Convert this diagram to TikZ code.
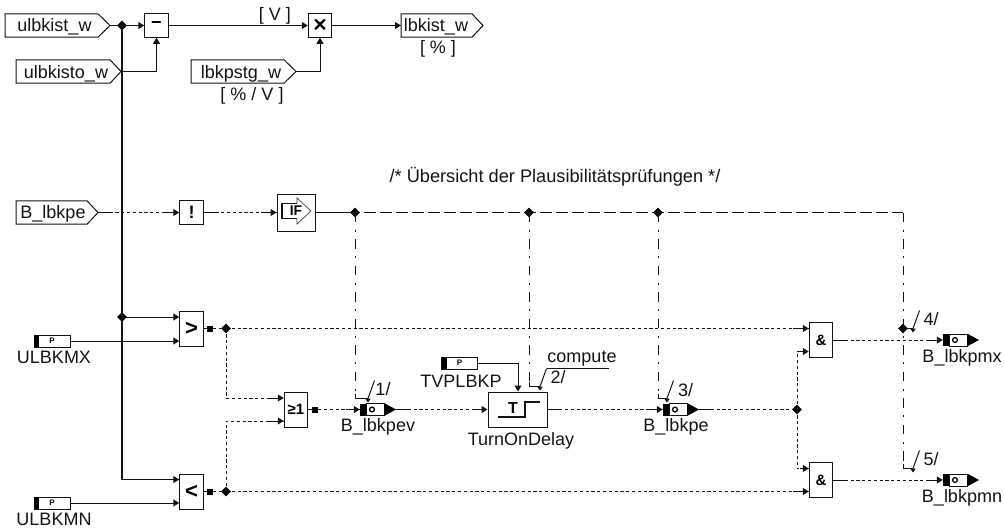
\documentclass[tikz,border=0pt]{standalone}
\usepackage{fontspec}
\setmainfont{Liberation Sans}
\usetikzlibrary{arrows.meta,shapes.geometric}
\definecolor{ink}{gray}{0.08}
\tikzset{
  wire/.style={line width=1pt,draw=ink},
  bus/.style={line width=1.4pt,draw=ink},
  sigdash/.style={line width=1pt,draw=ink,dash pattern=on 3.2pt off 2.6pt},
  ctrl/.style={line width=1pt,draw=ink,dash pattern=on 9.5pt off 7.5pt on 2pt off 7.5pt},
  ctrlh/.style={line width=1.3pt,draw=ink,dash pattern=on 12pt off 4pt},
  arr/.style={-{Triangle[length=6pt,width=7pt]}},
  opbox/.style={draw=ink,line width=1pt,fill=white,inner sep=0pt,minimum width=23.5pt,minimum height=23.5pt,font=\fontsize{18}{20}\selectfont\bfseries},
  tallbox/.style={opbox,minimum height=35pt},
  txt/.style={inner sep=0pt,anchor=base,font=\fontsize{18}{20}\selectfont,text=ink},
  jn/.style={shape=diamond,fill=black,inner sep=0pt,minimum width=10pt,minimum height=10pt},
  sq/.style={fill=black,inner sep=0pt,minimum size=6pt},
  pblock/.style={draw=ink,line width=1pt,fill=white,inner sep=0pt,minimum width=36pt,minimum height=12pt,font=\fontsize{8}{8}\selectfont\bfseries},
  outblock/.style={inner sep=0pt,minimum width=36pt,minimum height=12pt},
  tagline/.style={draw=ink,line width=1pt,fill=white}
}
% x1, start of point, tip, centre y
\newcommand\tagshape[4]{\draw[tagline] (#1,#4-11.7) -- (#2,#4-11.7) -- (#3,#4) -- (#2,#4+11.7) -- (#1,#4+11.7) -- cycle;}
\newcommand\pshape[3]{\node[pblock] (#1) at (#2,#3) {P}; \fill[black] (#2-18,#3-6) rectangle (#2-13,#3+6);}
\newcommand\outshape[3]{%
  \node[outblock] (#1) at (#2,#3) {};
  \fill[black] (#2-18,#3-6) rectangle (#2-12,#3+6);
  \draw[wire,fill=white] (#2-12,#3-6) rectangle (#2+6,#3+6);
  \draw[line width=1.3pt,draw=black] (#2-6,#3) circle (2.4pt);
  \fill[black] (#2+6,#3-6.5) -- (#2+18,#3) -- (#2+6,#3+6.5) -- cycle;}
\newcommand\sigh[2]{\draw[sigdash] (#1) -- (#2);
  \draw[wire] (#1) -- ([xshift=12pt]#1);
  \draw[wire,arr] ([xshift=-16pt]#2) -- (#2);}
\begin{document}
\begin{tikzpicture}[x=1pt,y=-1pt]
\useasboundingbox (0,0) rectangle (1004,530);
% tags
\tagshape{5}{98}{110}{25.5}
\node[txt] (ulbkist) at (54.5,31.5) {ulbkist\_w};
\coordinate (ulbkisttip) at (110,25.5);
\tagshape{16}{110}{121}{71.5}
\node[txt] (ulbkisto) at (66,78) {ulbkisto\_w};
\coordinate (ulbkistotip) at (121,71.5);
\tagshape{191}{284}{296}{71.5}
\node[txt] (lbkpstg) at (241,78) {lbkpstg\_w};
\coordinate (lbkpstgtip) at (296,71.5);
\node[txt] (ulabel) at (252,100) {[ \% / V ]};
\tagshape{401}{472}{483}{25.5}
\node[txt] (lbkist) at (436,31.5) {lbkist\_w};
\coordinate (lbkistin) at (401,25.5);
\node[txt] (pctlabel) at (438,53.5) {[ \% ]};
\tagshape{16}{87}{98}{212.5}
\node[txt] (blbkpe) at (53,218.5) {B\_lbkpe};
\coordinate (blbkpetip) at (98,212.5);
% boxes
\node[opbox] (minus) at (156.5,25.5) {\raisebox{1pt}{\textminus}};
\node[opbox,font=\fontsize{23}{23}\selectfont\bfseries] (times) at (320,25.5) {×};
\node[txt] (vlabel) at (275,20.7) {[ V ]};
\node[opbox] (notb) at (191.5,212.5) {!};
\node[draw=ink,line width=1pt,fill=white,minimum width=38pt,minimum height=37pt,inner sep=0pt] (ifbox) at (296,212.5) {};
\draw[line width=1.2pt,draw=ink] (297,203.5) -- (282,203.5) -- (282,218.5) -- (297,218.5);
\draw[line width=0.7pt,draw=ink!80] (297,203.5) -- (297,198) -- (311,211) -- (297,224) -- (297,218.5);
\node[inner sep=0pt,font=\fontsize{14}{14}\selectfont\bfseries] (iftext) at (296,211) {IF};
\node[tallbox,font=\fontsize{22}{22}\selectfont\bfseries] (gt) at (191.5,328.5) {>};
\node[tallbox,font=\fontsize{22}{22}\selectfont\bfseries] (lt) at (191.5,491.5) {<};
\node[tallbox,font=\fontsize{15}{15}\selectfont\bfseries] (orbox) at (296,409.5) {≥1};
\node[tallbox,font=\fontsize{15}{15}\selectfont\bfseries] (and1) at (821,340) {\&};
\node[tallbox,font=\fontsize{15}{15}\selectfont\bfseries] (and2) at (821,480) {\&};
\node[draw=ink,line width=1pt,fill=white,minimum width=59pt,minimum height=35pt,inner sep=0pt] (delay) at (517.5,409.5) {};
\node[inner sep=0pt,font=\fontsize{16}{16}\selectfont\bfseries] (tmark) at (513,407.5) {T};
\draw[line width=1.8pt,draw=ink] (498,417) -- (525,417) -- (525,402) -- (540,402);
\node[txt] (delaylabel) at (521,445) {TurnOnDelay};
% parameters
\pshape{ulbkmx}{52}{341}
\node[txt] (ulbkmxl) at (54,363.5) {ULBKMX};
\pshape{ulbkmn}{52}{503}
\node[txt] (ulbkmnl) at (54,525.3) {ULBKMN};
\pshape{tvplbkp}{459.5}{363}
\node[txt] (tvplbkpl) at (461,387) {TVPLBKP};
% outputs
\outshape{obpev}{378}{409.5}
\node[txt] (obpevl) at (378,431.7) {B\_lbkpev};
\outshape{obpe}{681}{409.5}
\node[txt] (obpel) at (676,431.7) {B\_lbkpe};
\outshape{obpmx}{961}{340}
\node[txt] (obpmxl) at (962,362) {B\_lbkpmx};
\outshape{obpmn}{961}{480}
\node[txt] (obpmnl) at (962,502) {B\_lbkpmn};
% squares and junctions
\node[sq] (sq1) at (210,328.5) {};
\node[sq] (sq2) at (210,491.5) {};
\node[sq] (sq3) at (315,409.5) {};
\node[jn] (j0) at (122,25.5) {};
\node[jn] (j00) at (122,317) {};
\node[jn] (jgt) at (226,328.5) {};
\node[jn] (jlt) at (226,491.5) {};
\node[jn] (jc1) at (355,212.5) {};
\node[jn] (jc2) at (529,212.5) {};
\node[jn] (jc3) at (658,212.5) {};
\node[jn] (jand) at (797,409.5) {};
\node[jn] (jc4) at (903,328.5) {};
% free corners
\coordinate (busend) at (122,479.5);
\coordinate (c0) at (903,212.5);
\coordinate (e1) at (355,398.5); \coordinate (e1b) at (368,398.5);
\coordinate (e2) at (529,386.5); \coordinate (e2b) at (540,386.5);
\coordinate (e3) at (658,398.5); \coordinate (e3b) at (667,398.5);
\coordinate (e4b) at (913,328.5);
\coordinate (e5) at (903,468.5); \coordinate (e5b) at (913,468.5);
% top row
\draw[wire] (ulbkisttip) -- (j0.center);
\draw[wire,arr] (j0.center) -- (minus.west);
\draw[bus] (j0.center) -- (busend);
\draw[wire,arr] (ulbkistotip) -| (minus.south);
\draw[wire,arr] (minus.east) -- (times.west);
\draw[wire,arr] (lbkpstgtip) -| (times.south);
\draw[wire,arr] (times.east) -- (lbkistin);
% inputs of comparators
\draw[wire,arr] (j00.center) -- ([yshift=11.5pt]gt.west);
\draw[wire,arr] (ulbkmx.east) -- ([yshift=-12.5pt]gt.west);
\draw[wire,arr] (busend) -- ([yshift=12pt]lt.west);
\draw[wire,arr] (ulbkmn.east) -- ([yshift=-11.5pt]lt.west);
% enable row
\sigh{blbkpetip}{notb.west}
\sigh{notb.east}{ifbox.west}
\draw[ctrlh] (ifbox.east) -- (c0);
\draw[wire] (ifbox.east) -- (jc1.center);
% comparator outputs
\draw[wire] (gt.east) -- (sq1);
\draw[wire] (lt.east) -- (sq2);
\draw[sigdash] (sq1) -- (jgt.center);
\draw[sigdash] (sq2) -- (jlt.center);
\draw[sigdash] (jgt.center) -- ([yshift=11.5pt]and1.west);
\draw[sigdash] (jgt.center) -- (226,398) -- (284,398);
\draw[sigdash] (jlt.center) -- (226,421) -- (284,421);
\draw[wire,arr] (268,398) -- ([yshift=11.5pt]orbox.west);
\draw[wire,arr] (268,421) -- ([yshift=-11.5pt]orbox.west);
\draw[sigdash] (jlt.center) -- ([yshift=-11.5pt]and2.west);
\draw[wire,arr] ([yshift=-11.5pt,xshift=-16pt]and2.west) -- ([yshift=-11.5pt]and2.west);
\draw[wire,arr] ([yshift=11.5pt,xshift=-16pt]and1.west) -- ([yshift=11.5pt]and1.west);
% middle row
\draw[wire] (orbox.east) -- (sq3);
\draw[sigdash] (sq3) -- (obpev.west);
\draw[wire,arr] ([xshift=-14pt]obpev.west) -- (obpev.west);
\sigh{obpev.east}{delay.west}
\draw[wire,arr] (tvplbkp.east) -| (delay.north -| 518,363);
\sigh{delay.east}{obpe.west}
\draw[sigdash] (obpe.east) -- (jand.center);
\draw[wire] (obpe.east) -- ([xshift=12pt]obpe.east);
% AND inputs
\draw[sigdash] (jand.center) |- ([yshift=-11.5pt]and1.west);
\draw[sigdash] (jand.center) |- ([yshift=11.5pt]and2.west);
\draw[wire,arr] ([yshift=-11.5pt,xshift=-9pt]and1.west) -- ([yshift=-11.5pt]and1.west);
\draw[wire,arr] ([yshift=11.5pt,xshift=-9pt]and2.west) -- ([yshift=11.5pt]and2.west);
% AND outputs
\sigh{and1.east}{obpmx.west}
\sigh{and2.east}{obpmn.west}
% control lines
\draw[ctrl] (jc1.center) -- (e1);
\draw[ctrl] (jc2.center) -- (e2);
\draw[ctrl] (jc3.center) -- (e3);
\draw[ctrl] (c0) -- (e5);
\draw[wire] (e1) ++(0,-5) -- (e1) -- (e1b);
\draw[wire] (e2) ++(0,-5) -- (e2) -- (e2b);
\draw[wire] (e3) ++(0,-5) -- (e3) -- (e3b);
\draw[wire] (e5) ++(0,-5) -- (e5) -- (e5b);
\draw[wire] (jc4.center) -- (e4b);
\foreach \p/\q in {e1b/1,e2b/2,e3b/3,e4b/4,e5b/5}{
  \draw[wire,-{Triangle[length=4pt,width=5.5pt]}] (\p) -- ([yshift=-4pt]\p);
  \draw[wire] (\p) -- ++(6.5,-18);
}
\draw[wire] ([xshift=6.5pt,yshift=18pt]e2b) -- ++(62,0);
% labels of the control marks
\node[txt] (n1) at (383,395.6) {1/};
\node[txt] (n2) at (558,383) {2/};
\node[txt] (n3) at (685.5,396) {3/};
\node[txt] (n4) at (931,325) {4/};
\node[txt] (n5) at (931,465.6) {5/};
\node[txt] (computel) at (582,362) {compute};
\node[txt,font=\fontsize{18.2}{20}\selectfont] (title) at (555,182) {/* Übersicht der Plausibilitätsprüfungen */};
\end{tikzpicture}
\end{document}
